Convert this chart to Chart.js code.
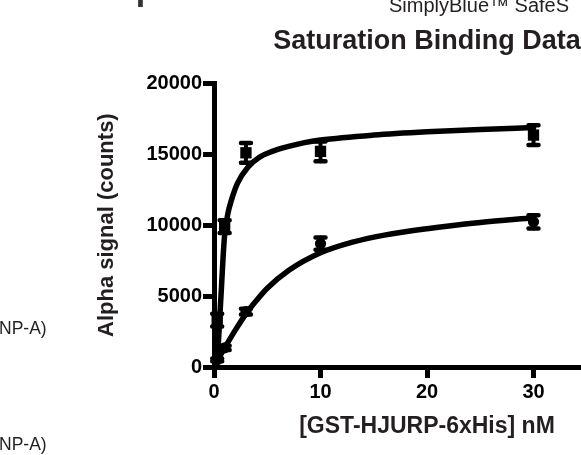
<!DOCTYPE html>
<html><head><meta charset="utf-8">
<script src="https://cdn.jsdelivr.net/npm/chart.js@4.4.1/dist/chart.umd.min.js"></script>
<style>
html,body{margin:0;padding:0;overflow:hidden;background:#fff;width:581px;height:455px;}
#wrap{position:relative;width:581px;height:455px;overflow:hidden;}
canvas{position:absolute;left:0;top:0;}
.t{position:absolute;white-space:nowrap;font-family:"Liberation Sans",Arial,sans-serif;color:#231f20;line-height:1;}
</style></head><body>
<div id="wrap">
<canvas id="c" width="670" height="455" style="width:670px;height:455px"></canvas>
<div class="t" style="left:389px;top:-4.6px;font-size:20px;">SimplyBlue™ SafeS</div>
<div class="t" style="left:135.8px;top:-29.3px;font-size:34px;font-weight:bold;color:#333;">p</div>
<div class="t" style="left:-1px;top:319.5px;font-size:17.5px;">NP-A)</div>
<div class="t" style="left:-1px;top:436.2px;font-size:17.5px;">NP-A)</div>
</div>
<script>
// ---- data ----
const xTicks = [0, 10, 20, 30, 40];
const yTicks = [0, 5000, 10000, 15000, 20000];
const conc = [0.3, 1, 3, 10, 30];
const squareMean = [3300, 9900, 15100, 15200, 16350];
const squareErr = [450, 450, 700, 700, 700];
const circleMean = [500, 1350, 3900, 8700, 10230];
const circleErr = [100, 150, 200, 430, 470];
const upperFitX = [0, 0.25, 0.4, 0.55, 0.7, 0.85, 1.0, 1.3, 1.65, 2.2, 3.2, 4.2, 5.4, 7, 8.5, 10, 15, 20, 25, 30];
const upperFitY = [0, 500, 1600, 3600, 5600, 7700, 9300, 10800, 11800, 12950, 14100, 14750, 15180, 15550, 15820, 16000, 16350, 16580, 16750, 16880];
const lowerFitX = [0, 0.5, 1, 2, 3, 4, 5, 7, 10, 13, 16, 20, 25, 30];
const lowerFitY = [0, 700, 1350, 2600, 3750, 4700, 5550, 6800, 8050, 8800, 9300, 9750, 10180, 10520];

const FONT = '"Liberation Sans", Arial, sans-serif';
const pts = (xs, ys) => xs.map((x, i) => ({x: x, y: ys[i]}));

const errorBars = {
  id: 'errorBars',
  afterDatasetsDraw(chart) {
    const ctx = chart.ctx, xs = chart.scales.x, ys = chart.scales.y;
    chart.data.datasets.forEach(ds => {
      if (!ds.errors) return;
      ds.data.forEach((p, i) => {
        const e = ds.errors[i];
        const px = xs.getPixelForValue(p.x);
        const top = ys.getPixelForValue(p.y + e);
        const bot = ys.getPixelForValue(p.y - e);
        ctx.save();
        ctx.strokeStyle = '#000';
        ctx.lineCap = 'round';
        ctx.lineWidth = 4;
        ctx.beginPath(); ctx.moveTo(px, top); ctx.lineTo(px, bot); ctx.stroke();
        ctx.lineWidth = 4.5;
        ctx.beginPath();
        ctx.moveTo(px - 5, top); ctx.lineTo(px + 5, top);
        ctx.moveTo(px - 5, bot); ctx.lineTo(px + 5, bot);
        ctx.stroke();
        ctx.restore();
      });
    });
  }
};

new Chart(document.getElementById('c'), {
  type: 'scatter',
  data: {
    datasets: [
      {data: pts(upperFitX, upperFitY), showLine: true, pointRadius: 0, borderColor: '#000', borderWidth: 5.5,
       cubicInterpolationMode: 'monotone', borderCapStyle: 'round', borderJoinStyle: 'round', fill: false},
      {data: pts(lowerFitX, lowerFitY), showLine: true, pointRadius: 0, borderColor: '#000', borderWidth: 5.5,
       cubicInterpolationMode: 'monotone', borderCapStyle: 'round', borderJoinStyle: 'round', fill: false},
      {data: pts(conc, squareMean), errors: squareErr, pointStyle: 'rect', pointRadius: 8, backgroundColor: '#000', borderWidth: 0, clip: false},
      {data: pts(conc, circleMean), errors: circleErr, pointStyle: 'circle', pointRadius: 5.6, backgroundColor: '#000', borderWidth: 0, clip: false}
    ]
  },
  options: {
    responsive: false,
    devicePixelRatio: 1,
    animation: false,
    layout: {padding: {left: 0, top: 0, right: 30, bottom: 0}},
    plugins: {
      legend: {display: false},
      tooltip: {enabled: false},
      title: {display: true, text: 'Saturation Binding Data', fullSize: false, color: '#231f20',
              font: {family: FONT, size: 27, weight: 'bold', lineHeight: 1.2},
              padding: {top: 25.8, bottom: 25.1}}
    },
    scales: {
      x: {
        type: 'linear', min: 0, max: 40,
        afterBuildTicks: s => { s.ticks = xTicks.map(v => ({value: v})); },
        afterFit: s => { s.height = 88; },
        ticks: {color: '#000', font: {family: FONT, size: 20, weight: 'bold'}, padding: 2,
                maxRotation: 0, autoSkip: false, callback: v => String(v)},
        grid: {display: true, drawOnChartArea: false, drawTicks: true, tickLength: 11, lineWidth: 5, color: '#000'},
        border: {display: true, width: 5, color: '#000'},
        title: {display: true, text: '[GST-HJURP-6xHis] nM', color: '#231f20',
                font: {family: FONT, size: 23, weight: 'bold', lineHeight: 1.2}, padding: {top: 0, bottom: 14.2}}
      },
      y: {
        type: 'linear', min: 0, max: 20000,
        afterBuildTicks: s => { s.ticks = yTicks.map(v => ({value: v})); },
        afterFit: s => { s.width = 214; },
        ticks: {color: '#000', font: {family: FONT, size: 20, weight: 'bold'}, padding: 1,
                autoSkip: false, callback: v => String(v)},
        grid: {display: true, drawOnChartArea: false, drawTicks: true, tickLength: 11, lineWidth: 5, color: '#000'},
        border: {display: true, width: 5, color: '#000'},
        title: {display: true, text: 'Alpha signal (counts)', color: '#231f20',
                font: {family: FONT, size: 22, weight: 'bold', lineHeight: 1.2}, padding: {top: 93.8, bottom: 0}}
      }
    }
  },
  plugins: [errorBars]
});
</script>
</body></html>
